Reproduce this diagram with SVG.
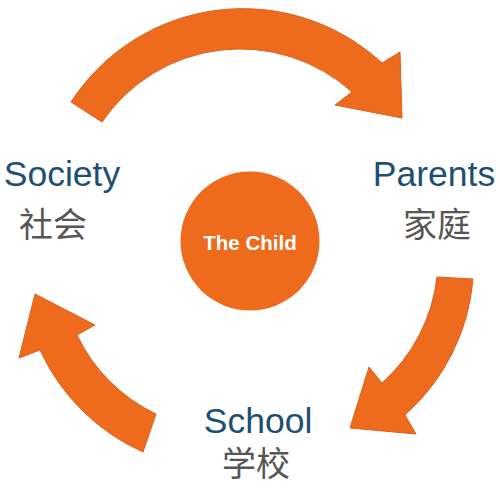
<svg xmlns="http://www.w3.org/2000/svg" width="500" height="500" viewBox="0 0 500 500">
  <style>
    .arrow { fill: #ee6a1c; stroke: #d8621e; stroke-width: 1; stroke-linejoin: miter; }
    .en { font-family: "Liberation Sans", Arial, sans-serif; font-size: 35.5px; fill: #1d4f73; text-anchor: middle; }
    .zh { font-family: "Noto Sans CJK SC", "Noto Sans", sans-serif; font-size: 34px; fill: #555555; text-anchor: middle; }
  </style>
  <rect width="500" height="500" fill="#ffffff"/>
  <g id="connectors">
    <path id="arrow-society-parents" class="arrow" d="M 71,102 A 205 205 0 0 1 382,63 L 400,52 L 402,118 L 335,105 L 352,92 A 167 167 0 0 0 102,122 Z"/>
    <path id="arrow-parents-school" class="arrow" d="M 473,279 A 205 205 0 0 1 405,415 L 416,434 L 350,428 L 369,367 L 382,383 A 167 167 0 0 0 437,277 Z"/>
    <path id="arrow-school-society" class="arrow" d="M 143,452 A 205 205 0 0 1 40,350 L 19,358 L 35,294 L 95,325 L 77,335 A 167 167 0 0 0 156,414 Z"/>
  </g>
  <g id="child">
    <circle cx="250" cy="241" r="69.5" fill="#ee6a1c"/>
    <text x="250" y="250" font-family="Liberation Sans, Arial, sans-serif" font-weight="bold" font-size="20.5" fill="#ffffff" text-anchor="middle">The Child</text>
  </g>
  <g id="society">
    <text class="en" x="62" y="186">Society</text>
    <text class="zh" x="53" y="237">社会</text>
  </g>
  <g id="parents">
    <text class="en" x="434" y="186">Parents</text>
    <text class="zh" x="437" y="237">家庭</text>
  </g>
  <g id="school">
    <text class="en" x="258" y="433">School</text>
    <text class="zh" x="256" y="476">学校</text>
  </g>
</svg>
